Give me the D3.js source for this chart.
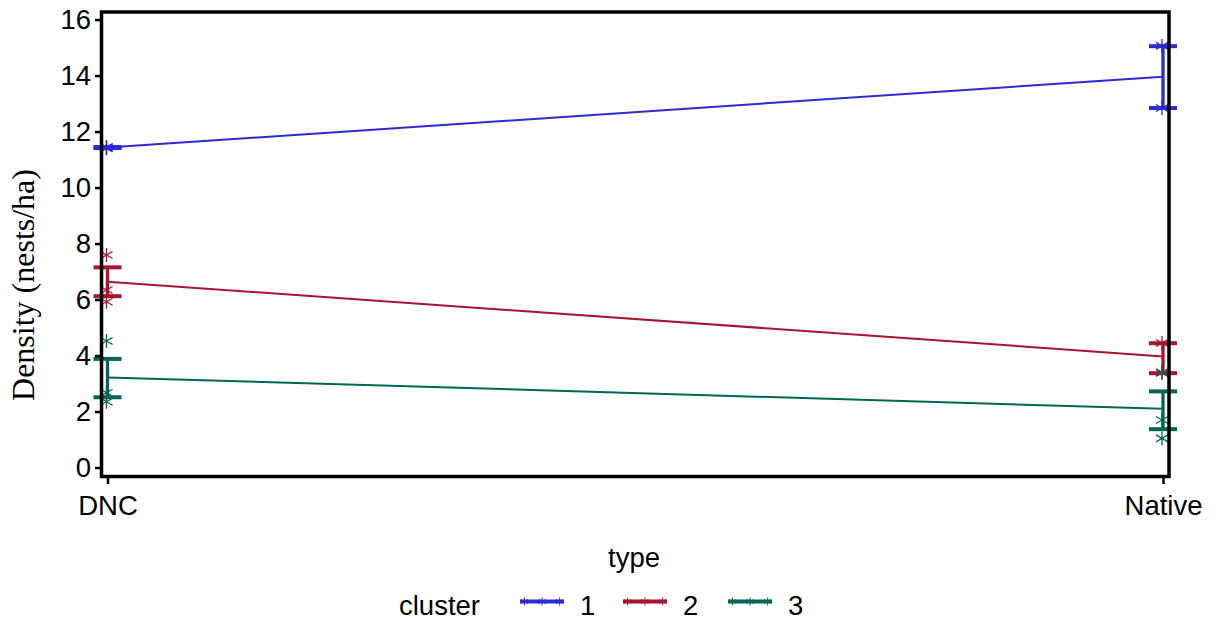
<!DOCTYPE html>
<html>
<head>
<meta charset="utf-8">
<script src="https://cdn.jsdelivr.net/npm/d3@7/dist/d3.min.js"></script>
<style>
  html, body { margin: 0; padding: 0; background: #ffffff; }
  svg { display: block; }
</style>
</head>
<body>
<svg id="chart" width="1213" height="626"></svg>
<script>
// Nest density by habitat type, one line per cluster with mean +/- SE bars
const types = ["DNC", "Native"];
const clusters = ["1", "2", "3"];
const colors = ["#2b2bd4", "#a81530", "#006656"];

// cluster means at DNC / Native
const means1 = [11.43, 13.96];
const means2 = [6.64, 3.97];
const means3 = [3.22, 2.1];

// error bar limits [lower, upper] at DNC / Native
const bars1 = [[11.41, 11.45], [12.84, 15.05]];
const bars2 = [[6.12, 7.15], [3.37, 4.44]];
const bars3 = [[2.51, 3.88], [1.37, 2.72]];

// individual observations at DNC / Native
const obs1 = [[11.40, 11.43, 11.45], [15.06, 12.84]];
const obs2 = [[7.59, 6.34, 5.92], [4.45, 3.38]];
const obs3 = [[4.52, 2.67, 2.35], [3.40, 1.70, 1.04]];

const yTicks = [0, 2, 4, 6, 8, 10, 12, 14, 16];

const series = [
  { name: clusters[0], color: colors[0], means: means1, bars: bars1, obs: obs1 },
  { name: clusters[1], color: colors[1], means: means2, bars: bars2, obs: obs2 },
  { name: clusters[2], color: colors[2], means: means3, bars: bars3, obs: obs3 }
];

const svg = d3.select("#chart");
const frame = { left: 101.5, right: 1169, top: 12, bottom: 476.5 };
const sans = "Arial, 'Liberation Sans', sans-serif";
const serif = "'Times New Roman', 'Liberation Serif', serif";
const fs = 27.5;

const x = d3.scalePoint().domain(types).range([107.5, 1163]);
const y = d3.scaleLinear().domain([-0.32, 16.27]).range([frame.bottom, frame.top]);

// asterisk marker: vertical stroke plus two diagonals
function star(g, cx, cy, r, color, w) {
  const a = r * Math.cos(Math.PI / 6), b = r * Math.sin(Math.PI / 6);
  const p = `M${cx},${cy - r}L${cx},${cy + r}` +
            `M${cx - a},${cy - b}L${cx + a},${cy + b}` +
            `M${cx - a},${cy + b}L${cx + a},${cy - b}`;
  g.append("path").attr("d", p).attr("stroke", color)
    .attr("stroke-width", w).attr("fill", "none");
}

const plot = svg.append("g");

series.forEach(s => {
  const g = plot.append("g");
  // mean line
  const line = d3.line().x((d, i) => x(types[i])).y(d => y(d));
  g.append("path").datum(s.means).attr("d", line)
    .attr("fill", "none").attr("stroke", s.color).attr("stroke-width", 2);

  types.forEach((t, i) => {
    const cx = x(t);
    // observations
    s.obs[i].forEach(v => star(g, cx - 1, y(v), 7, s.color, 1.3));
    // error bar
    const [lo, hi] = s.bars[i];
    g.append("line").attr("x1", cx).attr("x2", cx)
      .attr("y1", y(lo)).attr("y2", y(hi))
      .attr("stroke", s.color).attr("stroke-width", 3.3);
    [lo, hi].forEach(v => {
      g.append("line").attr("x1", cx - 14).attr("x2", cx + 14)
        .attr("y1", y(v)).attr("y2", y(v))
        .attr("stroke", s.color).attr("stroke-width", 4);
    });
  });
});

// frame
svg.append("rect")
  .attr("x", frame.left).attr("y", frame.top)
  .attr("width", frame.right - frame.left).attr("height", frame.bottom - frame.top)
  .attr("fill", "none").attr("stroke", "#000").attr("stroke-width", 3.5);

// y axis
const yAxis = d3.axisLeft(y).tickValues(yTicks).tickSize(5).tickPadding(4);
const yg = svg.append("g").attr("transform", `translate(${frame.left - 1.5},0)`).call(yAxis);
yg.select(".domain").remove();
yg.selectAll(".tick line").attr("stroke", "#000").attr("stroke-width", 2.5);
yg.selectAll(".tick text").attr("font-family", sans).attr("font-size", fs).attr("fill", "#000");

// x axis
const xAxis = d3.axisBottom(x).tickSize(6).tickPadding(11);
const xg = svg.append("g").attr("transform", `translate(0,${frame.bottom + 1.5})`).call(xAxis);
xg.select(".domain").remove();
xg.selectAll(".tick line").attr("stroke", "#000").attr("stroke-width", 2.5);
xg.selectAll(".tick text").attr("font-family", sans).attr("font-size", fs).attr("fill", "#000");

// axis titles
svg.append("text").attr("x", 634).attr("y", 567)
  .attr("text-anchor", "middle").attr("font-family", sans).attr("font-size", fs)
  .text("type");
svg.append("text")
  .attr("transform", "translate(34,285) rotate(-90)")
  .attr("text-anchor", "middle").attr("font-family", serif).attr("font-size", 32)
  .text("Density (nests/ha)");

// legend
const leg = svg.append("g");
leg.append("text").attr("x", 399).attr("y", 615)
  .attr("font-family", sans).attr("font-size", fs).text("cluster");
const legX = [520, 623, 728];
series.forEach((s, i) => {
  const x0 = legX[i], x1 = x0 + 44, ly = 601.5;
  leg.append("line").attr("x1", x0).attr("x2", x1).attr("y1", ly).attr("y2", ly)
    .attr("stroke", s.color).attr("stroke-width", 4);
  [0.1, 0.5, 0.9].forEach(f => star(leg, x0 + f * (x1 - x0), ly, 4, s.color, 1));
  leg.append("text").attr("x", x1 + 16).attr("y", 615)
    .attr("font-family", sans).attr("font-size", fs).text(s.name);
});
</script>
</body>
</html>
